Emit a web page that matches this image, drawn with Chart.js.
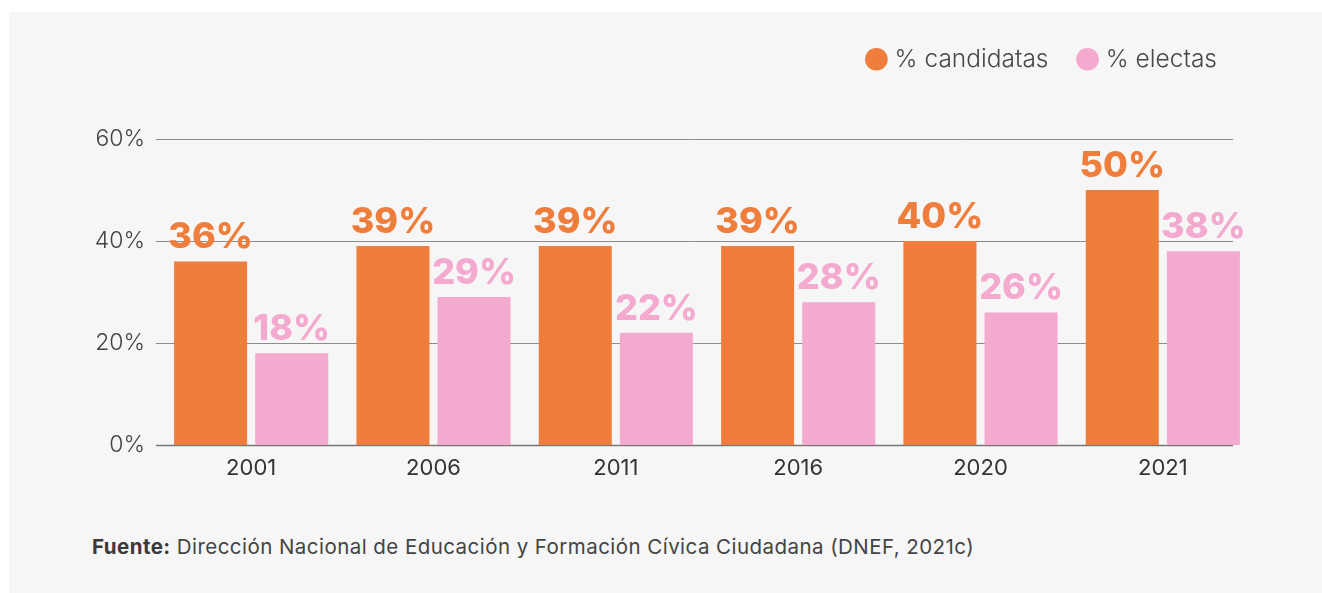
<!DOCTYPE html>
<html lang="es">
<head>
<meta charset="utf-8">
<title>Candidatas y electas</title>
<script src="https://cdn.jsdelivr.net/npm/chart.js@4"></script>
<style>
    html, body { margin: 0; padding: 0; background: #ffffff; }
    body { width: 1322px; height: 593px; position: relative; overflow: hidden; font-family: Inter, "Open Sans", sans-serif; }
    .panel { position: absolute; left: 9px; top: 12px; right: 0; bottom: 0; background: #f5f6f5; }
    .chart-box { position: absolute; left: 0; top: 0; width: 1322px; height: 500px; }
    .fuente { position: absolute; left: 92px; top: 534px; font-size: 20.5px; letter-spacing: 0.45px; color: #444; font-weight: 400; }
    .fuente b { font-weight: 700; color: #3a3a3a; }
</style>
</head>
<body>
<div class="panel"></div>
<div class="chart-box"><canvas id="votesChart"></canvas></div>
<div class="fuente"><b>Fuente:</b> Dirección Nacional de Educación y Formación Cívica Ciudadana (DNEF, 2021c)</div>

<script>
    // data
    const years = ['2001', '2006', '2011', '2016', '2020', '2021'];
    const candidatas = [36, 39, 39, 39, 40, 50];
    const electas = [18, 29, 22, 28, 26, 38];
    const seriesNames = ['% candidatas', '% electas'];

    const orange = '#ef7d3c';
    const pink = '#f4a9cf';

    // grid lines drawn by hand so they can stop short of the last bar like the original
    const gridPlugin = {
        id: 'customGrid',
        beforeDatasetsDraw(chart) {
            const ctx = chart.ctx;
            const yScale = chart.scales.y;
            const area = chart.chartArea;
            ctx.save();
            yScale.ticks.forEach((tick) => {
                const y = Math.round(yScale.getPixelForValue(tick.value)) + 0.5;
                ctx.beginPath();
                ctx.strokeStyle = tick.value === 0 ? '#777777' : '#8c8c8c';
                ctx.lineWidth = tick.value === 0 ? 1.6 : 1;
                ctx.moveTo(area.left - 4, y);
                ctx.lineTo(area.right - 21, y);
                ctx.stroke();
            });
            ctx.restore();
        }
    };

    // big value labels above each bar
    const valueLabels = {
        id: 'valueLabels',
        afterDatasetsDraw(chart) {
            const ctx = chart.ctx;
            ctx.save();
            ctx.font = '800 36px Inter';
            ctx.textAlign = 'center';
            ctx.textBaseline = 'alphabetic';
            chart.data.datasets.forEach((ds, i) => {
                const meta = chart.getDatasetMeta(i);
                ctx.fillStyle = ds.backgroundColor;
                meta.data.forEach((bar, j) => {
                    ctx.fillText(ds.data[j] + '%', bar.x, bar.y - 13);
                });
            });
            ctx.restore();
        }
    };

    // give the legend extra room below it, and pull it a bit in from the right
    const legendSpace = {
        id: 'legendSpace',
        beforeLayout(chart) {
            const lg = chart.legend;
            if (lg && !lg._spaced) {
                const origFit = lg.fit;
                lg.fit = function () {
                    origFit.call(this);
                    this.height = 125;
                    if (this.lineWidths && this.lineWidths.length) {
                        this.lineWidths[0] += 4;
                    }
                };
                lg._spaced = true;
            }
        }
    };

    const ctx = document.getElementById('votesChart');
    const votesChart = new Chart(ctx, {
        type: 'bar',
        data: {
            labels: years,
            datasets: [
                {
                    label: seriesNames[0],
                    data: candidatas,
                    backgroundColor: orange,
                    categoryPercentage: 0.89,
                    barPercentage: 0.9
                },
                {
                    label: seriesNames[1],
                    data: electas,
                    backgroundColor: pink,
                    categoryPercentage: 0.89,
                    barPercentage: 0.9
                }
            ]
        },
        options: {
            responsive: true,
            maintainAspectRatio: false,
            animation: false,
            layout: {
                padding: { top: 14, left: 95, right: 68, bottom: 15 }
            },
            plugins: {
                legend: {
                    position: 'top',
                    align: 'end',
                    labels: {
                        usePointStyle: true,
                        pointStyle: 'circle',
                        boxWidth: 12,
                        boxHeight: 16,
                        padding: 33,
                        color: '#474747',
                        font: { family: 'Inter', size: 24.5, weight: '300' }
                    }
                },
                tooltip: { enabled: false }
            },
            scales: {
                x: {
                    grid: { display: false, drawTicks: false },
                    border: { display: false },
                    ticks: {
                        color: '#333333',
                        padding: 10,
                        font: { family: 'Inter', size: 22, weight: '400' }
                    },
                    afterFit(scale) { scale.height = 40; }
                },
                y: {
                    min: 0,
                    max: 60,
                    grid: { display: false, drawTicks: false },
                    border: { display: false },
                    ticks: {
                        stepSize: 20,
                        color: '#444444',
                        padding: 15,
                        font: { family: 'Inter', size: 23, weight: '300' },
                        callback: (v) => v + '%'
                    },
                    afterFit(scale) { scale.width = 65; }
                }
            }
        },
        plugins: [gridPlugin, valueLabels, legendSpace]
    });
</script>
</body>
</html>
